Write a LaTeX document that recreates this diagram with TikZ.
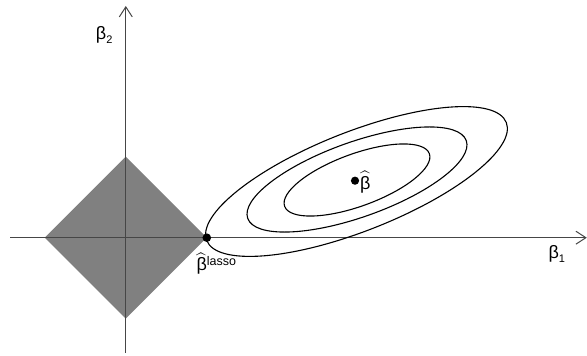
\documentclass[tikz,border=0pt]{standalone}
\usepackage{amsmath}
\usepackage{fontspec}
\setmainfont{Liberation Sans}
\usepackage{tikz}
\usetikzlibrary{arrows.meta,positioning}
\definecolor{lsaxis}{RGB}{70,70,70}
\definecolor{lsball}{RGB}{128,128,128}
\newcommand{\betahat}{$\widehat{\text{β}}$}
\newcommand{\smalltxt}[3][11]{\raisebox{#2}{\fontsize{#1}{#1}\selectfont #3}}

\begin{document}
\begin{tikzpicture}[
  x=1pt, y=1pt,
  font=\fontsize{18}{21}\selectfont,
  axis/.style={draw=lsaxis, line width=1.1pt, -{Straight Barb[length=10pt,width=13pt,line width=1pt]}},
  contour/.style={draw=black, line width=1.1pt},
  estpt/.style={fill=black},
  lab/.style={inner sep=0pt, anchor=base west}
]
\useasboundingbox (-125.8,-118.3) rectangle (461.2,237.7);
% l1 ball
\fill[lsball] (-81,0) -- (0,81) -- (81,0) -- (0,-81) -- cycle;
% axes
\coordinate (xstart) at (-115.3,0);
\coordinate (xend) at (461,0);
\coordinate (ystart) at (0,-115.3);
\coordinate (yend) at (0,231.7);
\draw[axis] (xstart) -- (xend);
\draw[axis] (ystart) -- (yend);
% RSS contours
\draw[contour, rotate around={21.5:(230.7,56.2)}] (230.7,56.2) ellipse [x radius=161, y radius=49.6];
\draw[contour, rotate around={19.6:(231.2,58.2)}] (231.2,58.2) ellipse [x radius=116, y radius=37.5];
\draw[contour, rotate around={20:(231.2,57.7)}] (231.2,57.7) ellipse [x radius=77, y radius=26.2];
% estimates
\coordinate (lassopt) at (81,0);
\coordinate (olspt) at (229.2,57);
\fill[estpt] (lassopt) circle (4.3);
\fill[estpt] (olspt) circle (4.1);
\node[lab] (lassolab) at (70.5,-33.3) {\betahat\smalltxt[12.5]{5pt}{lasso}};
\node[lab] (olslab) at (234,48.2) {\betahat};
\node[lab] (b1lab) at (422.5,-20.5) {β\smalltxt{-4pt}{1}};
\node[lab] (b2lab) at (-30,197.7) {β\smalltxt{-3.5pt}{2}};
\end{tikzpicture}
\end{document}
